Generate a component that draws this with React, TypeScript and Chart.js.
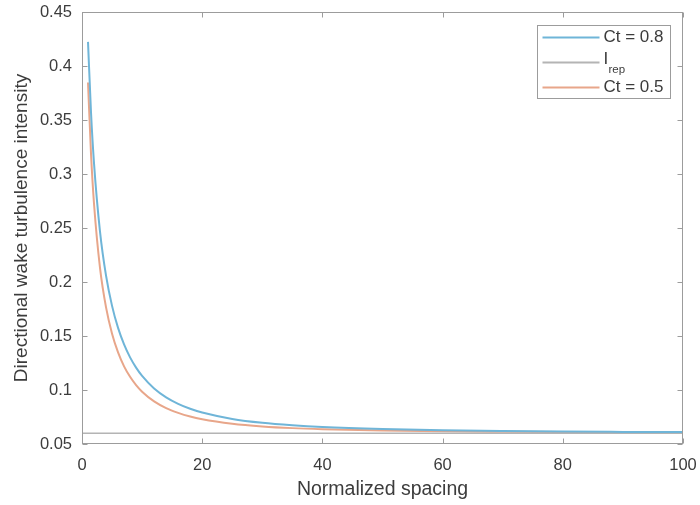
import React, { useEffect, useRef } from "react";
import { Chart, registerables } from "chart.js";

Chart.register(...registerables);

// Normalized spacing (x) sample points
const spacing = [1, 1.5, 2, 3, 4, 5, 6, 7, 8, 9, 10, 12, 14, 16, 18, 20, 25, 30, 35, 40, 50, 60, 70, 80, 90, 100];
// Ct = 0.8 curve
const ct08 = [0.4223, 0.3569, 0.3099, 0.2465, 0.2059, 0.1779, 0.1575, 0.1422, 0.1302, 0.1207, 0.113, 0.1014, 0.0932, 0.0872, 0.0826, 0.0791, 0.0732, 0.0696, 0.0673, 0.0657, 0.0638, 0.0627, 0.062, 0.0615, 0.0612, 0.061];
// Ct = 0.5 curve
const ct05 = [0.3847, 0.3185, 0.2725, 0.2129, 0.1765, 0.1521, 0.1348, 0.1219, 0.1122, 0.1045, 0.0984, 0.0894, 0.0832, 0.0788, 0.0754, 0.0729, 0.0688, 0.0663, 0.0647, 0.0637, 0.0624, 0.0617, 0.0613, 0.061, 0.0608, 0.0606];
// I_rep reference line
const irepX = [0, 100];
const irepY = [0.06, 0.06];

const xTicks = [0, 20, 40, 60, 80, 100];
const yTicks = [0.05, 0.1, 0.15, 0.2, 0.25, 0.3, 0.35, 0.4, 0.45];

const seriesNames = ["Ct = 0.8", "I", "Ct = 0.5"];
const irepSub = "rep";
const xTitle = "Normalized spacing";
const yTitle = "Directional wake turbulence intensity";

const BLUE = "#6fb5d8";
const ORANGE = "#e8a68a";
const GRAY = "#b4b4b4";
const AXIS = "#9c9c9c";
const TEXT = "#3c3c3c";
const FONT = "'Liberation Sans', Arial, sans-serif";

const boxPlugin = {
  id: "matlabBox",
  afterDatasetsDraw(chart: any) {
    const { ctx, chartArea: a, scales } = chart;
    const xs = scales.x;
    const ys = scales.y;
    ctx.save();
    ctx.strokeStyle = AXIS;
    ctx.lineWidth = 1;
    const L = Math.round(a.left) + 0.5;
    const R = Math.round(a.right) - 0.5;
    const T = Math.round(a.top) + 0.5;
    const B = Math.round(a.bottom) - 0.5;
    ctx.strokeRect(L, T, R - L, B - T);
    const tl = 5;
    ctx.beginPath();
    xTicks.forEach((v) => {
      const px = Math.round(xs.getPixelForValue(v)) + 0.5;
      ctx.moveTo(px, B);
      ctx.lineTo(px, B - tl);
      ctx.moveTo(px, T);
      ctx.lineTo(px, T + tl);
    });
    yTicks.forEach((v) => {
      const py = Math.round(ys.getPixelForValue(v)) + 0.5;
      ctx.moveTo(L, py);
      ctx.lineTo(L + tl, py);
      ctx.moveTo(R, py);
      ctx.lineTo(R - tl, py);
    });
    ctx.stroke();

    // legend
    const lw = 133;
    const lh = 73;
    const lx = Math.round(a.right) - 13 - lw + 0.5;
    const ly = Math.round(a.top) + 13 + 0.5;
    ctx.fillStyle = "#ffffff";
    ctx.fillRect(lx, ly, lw, lh);
    ctx.strokeStyle = AXIS;
    ctx.strokeRect(lx, ly, lw, lh);
    const colors = [BLUE, GRAY, ORANGE];
    const rows = [12, 37, 62];
    ctx.textBaseline = "middle";
    ctx.textAlign = "left";
    seriesNames.forEach((name, i) => {
      const yy = ly + rows[i];
      ctx.strokeStyle = colors[i];
      ctx.lineWidth = 2;
      ctx.beginPath();
      ctx.moveTo(lx + 5, yy);
      ctx.lineTo(lx + 62, yy);
      ctx.stroke();
      ctx.fillStyle = TEXT;
      ctx.font = `17px ${FONT}`;
      if (i === 1) {
        ctx.fillText(name, lx + 66, yy - 3);
        ctx.font = `11.5px ${FONT}`;
        ctx.fillText(irepSub, lx + 71, yy + 7);
      } else {
        ctx.fillText(name, lx + 66, yy);
      }
    });
    ctx.restore();
  },
};

export default function App() {
  const ref = useRef<HTMLCanvasElement | null>(null);
  useEffect(() => {
    if (!ref.current) return;
    const chart = new Chart(ref.current, {
      type: "line",
      data: {
        datasets: [
          {
            label: "Ct = 0.8",
            data: spacing.map((s, i) => ({ x: s, y: ct08[i] })),
            borderColor: BLUE,
            borderWidth: 2,
            pointRadius: 0,
            cubicInterpolationMode: "monotone",
          },
          {
            label: "Irep",
            data: irepX.map((s, i) => ({ x: s, y: irepY[i] })),
            borderColor: GRAY,
            borderWidth: 1.5,
            pointRadius: 0,
          },
          {
            label: "Ct = 0.5",
            data: spacing.map((s, i) => ({ x: s, y: ct05[i] })),
            borderColor: ORANGE,
            borderWidth: 2,
            pointRadius: 0,
            cubicInterpolationMode: "monotone",
          },
        ],
      },
      options: {
        responsive: false,
        animation: false,
        layout: { padding: { top: 12, right: 17, left: 0, bottom: 0 } },
        plugins: { legend: { display: false }, tooltip: { enabled: false } },
        scales: {
          x: {
            type: "linear",
            min: 0,
            max: 100,
            afterBuildTicks: (s: any) => {
              s.ticks = xTicks.map((v) => ({ value: v }));
            },
            afterFit: (s: any) => {
              s.height = 61;
              s.paddingLeft = 0;
              s.paddingRight = 0;
            },
            grid: { display: false, drawTicks: false },
            border: { display: false },
            ticks: {
              color: TEXT,
              font: { family: FONT, size: 16.5 },
              padding: 12,
              maxRotation: 0,
              callback: (v: any) => String(v),
            },
            title: {
              display: true,
              text: xTitle,
              color: TEXT,
              font: { family: FONT, size: 19.5 },
              padding: { top: 0, bottom: 4 },
            },
          },
          y: {
            type: "linear",
            min: 0.05,
            max: 0.45,
            afterBuildTicks: (s: any) => {
              s.ticks = yTicks.map((v) => ({ value: v }));
            },
            afterFit: (s: any) => {
              s.width = 82;
              s.paddingTop = 0;
              s.paddingBottom = 0;
            },
            grid: { display: false, drawTicks: false },
            border: { display: false },
            ticks: {
              color: TEXT,
              font: { family: FONT, size: 16.5 },
              padding: 10,
              callback: (v: any) => String(Number(Number(v).toFixed(2))),
            },
            title: {
              display: true,
              text: yTitle,
              color: TEXT,
              font: { family: FONT, size: 19 },
              padding: { top: 10, bottom: 0 },
            },
          },
        },
      },
      plugins: [boxPlugin],
    } as any);
    return () => chart.destroy();
  }, []);
  return (
    <div style={{ position: "absolute", left: 0, top: 0, width: 700, height: 505, background: "#fff" }}>
      <canvas ref={ref} width={700} height={505} style={{ display: "block" }} />
    </div>
  );
}
